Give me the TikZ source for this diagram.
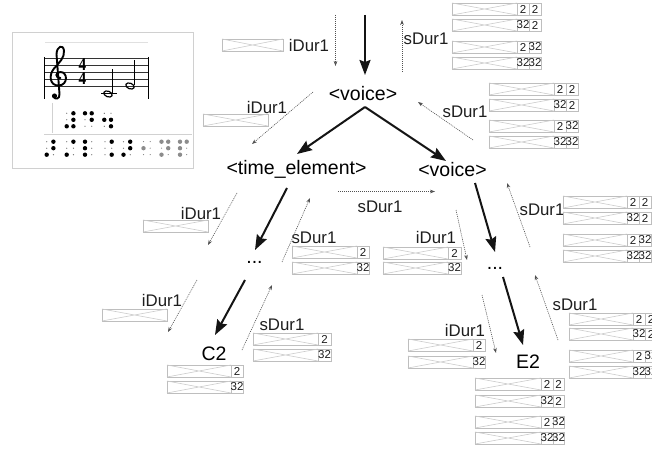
\documentclass[tikz,border=0pt]{standalone}
\usepackage{fontspec}
\setmainfont{Liberation Sans}
\newfontfamily\tsfont{Liberation Serif}
\usetikzlibrary{arrows.meta}
\definecolor{boxgray}{HTML}{BEBEBE}
\definecolor{crossgray}{HTML}{CCCCCC}
\definecolor{txtdark}{HTML}{1E1E1E}
\definecolor{dotgray}{HTML}{505050}
\definecolor{frame}{HTML}{D0D0D0}
\tikzset{
  boxln/.style={draw=boxgray,line width=0.8pt},
  crossln/.style={draw=crossgray,line width=0.6pt},
  celtxt/.style={inner sep=0pt,text=txtdark,font=\fontsize{11.5}{11.5}\selectfont},
  lbl/.style={inner sep=0pt,text=txtdark,font=\fontsize{16.8}{16.8}\selectfont},
  mainnode/.style={inner sep=0pt,anchor=base,text=black,font=\fontsize{19.5}{19.5}\selectfont},
  thick arrow/.style={draw=black!92,line width=2pt,-{Stealth[length=15pt,width=11pt,inset=2pt]}},
  thin arrow/.style={draw=dotgray,line width=0.6pt,dash pattern=on 1pt off 1pt,-{Stealth[length=5pt,width=3.6pt]}},
  bigdot/.style={fill=black},
  smalldot/.style={fill=black!55},
  graydot/.style={fill=black!45},
}
\newcommand\xb[4]{\draw[boxln] (#1,#2) rectangle (#3,#4);\draw[crossln] (#1,#2) -- (#3,#4) (#1,#4) -- (#3,#2);}
\newcommand\cel[5]{\draw[boxln] (#1,#2) rectangle (#3,#4);\node[celtxt] at ({(#1+#3)/2},{(#2+#4)/2}) {#5};}
\newcommand\trow[7]{\xb{#1}{#2}{#3}{#2+12}\cel{#3}{#2}{#4}{#2+12}{#6}\cel{#4}{#2}{#5}{#2+12}{#7}}
\newcommand\orow[5]{\xb{#1}{#2}{#3}{#2+12}\cel{#3}{#2}{#4}{#2+12}{#5}}
\newcommand\fourgroup[8]{%
  \trow{#1}{#5}{#2}{#3}{#4}{2}{2}
  \trow{#1}{#6}{#2}{#3}{#4}{32}{2}
  \trow{#1}{#7}{#2}{#3}{#4}{2}{32}
  \trow{#1}{#8}{#2}{#3}{#4}{32}{32}}
\newcommand\twogroup[5]{%
  \orow{#1}{#4}{#2}{#3}{2}
  \orow{#1}{#5}{#2}{#3}{32}}
% braille dot: x y filled(1)/empty(0)
\newcommand\bd[3]{\ifnum#3=1 \fill[bigdot] (#1,#2) circle (2.2);\else\fill[smalldot] (#1,#2) circle (0.65);\fi}
\newcommand\gd[3]{\ifnum#3=1 \fill[graydot] (#1,#2) circle (2.2);\else\fill[smalldot] (#1,#2) circle (0.55);\fi}
% braille cell: x, y top, six flags (r1l r1r r2l r2r r3l r3r)
\newcommand\bcell[8]{\bd{#1}{#2}{#3}\bd{#1+6.7}{#2}{#4}\bd{#1}{#2+6.5}{#5}\bd{#1+6.7}{#2+6.5}{#6}\bd{#1}{#2+13}{#7}\bd{#1+6.7}{#2+13}{#8}}
\newcommand\gcell[8]{\gd{#1}{#2}{#3}\gd{#1+6.7}{#2}{#4}\gd{#1}{#2+6.5}{#5}\gd{#1+6.7}{#2+6.5}{#6}\gd{#1}{#2+13}{#7}\gd{#1+6.7}{#2+13}{#8}}
\begin{document}
\begin{tikzpicture}[x=1pt,y=-1pt]
\useasboundingbox (0,0) rectangle (652,449);
\clip (0,0) rectangle (652,449);
\fill[white] (0,0) rectangle (652,449);

% ---------- music picture ----------
\draw[frame,line width=0.9pt] (12,32) rectangle (193,168);
\draw[black!12,line width=0.8pt] (45,42.5) -- (148,42.5);
\foreach \yy in {58,65,72,79,86} \draw[black!80,line width=0.7pt] (44,\yy) -- (149,\yy);
\draw[black,line width=1pt] (44.5,57) -- (44.5,99);
\draw[black,line width=1pt] (148.5,57) -- (148.5,99);
% treble clef
\draw[black,line width=1.9pt,line cap=round]
  (60.5,78) .. controls (55,78) and (55,72) .. (60.5,72)
  .. controls (68,72) and (68,85) .. (59,85.5)
  .. controls (49.5,86) and (48.5,75) .. (54,68.5)
  .. controls (58.5,63.5) and (65,57.5) .. (64,50.5)
  .. controls (63,44) and (57,46) .. (56.5,54)
  -- (59.5,94) .. controls (60,99) and (55,100) .. (54,97);
\fill[black] (54.5,96) circle (2.6);
% time signature
\node[inner sep=0pt,align=center,font=\tsfont\bfseries\fontsize{18}{13.5}\selectfont,xscale=0.85] (ts) at (82.5,71.5) {4\\4};
% notes
\draw[black,line width=0.8pt] (101,93) -- (117,93);
\draw[black,line width=1.2pt,rotate around={-22:(108,94)}] (108,94) ellipse (4.4 and 2.8);
\draw[black,line width=0.8pt] (112.2,93) -- (112.2,69);
\draw[black,line width=1.2pt,rotate around={-22:(130,86)}] (130,86) ellipse (4.4 and 2.8);
\draw[black,line width=0.8pt] (134.4,85) -- (134.4,60);
% braille
\draw[black!18,line width=0.9pt] (52.5,103) -- (52.5,133);
\draw[black!18,line width=0.9pt] (44,134.5) -- (192,134.5);
\bcell{66.7}{113.3}{0}{1}{0}{1}{1}{1}
\bcell{85}{113.3}{1}{1}{0}{1}{0}{0}
\bcell{104.3}{113.3}{0}{0}{1}{1}{0}{1}
\bcell{46.7}{141.7}{0}{1}{0}{1}{1}{0}
\bcell{66.7}{141.7}{0}{1}{0}{0}{1}{0}
\bcell{85}{141.7}{1}{0}{1}{0}{1}{0}
\bcell{105}{141.7}{0}{1}{0}{0}{0}{1}
\bcell{123.5}{141.7}{0}{1}{0}{1}{1}{0}
\gcell{143.5}{141.7}{0}{0}{1}{0}{0}{0}
\gcell{161.5}{141.7}{1}{1}{0}{1}{1}{0}
\gcell{180}{141.7}{1}{1}{1}{0}{1}{0}

% ---------- main nodes ----------
\node[mainnode] (voice1) at (363,101) {<voice>};
\node[mainnode] (timeel) at (296.5,174) {<time\_element>};
\node[mainnode] (voice2) at (452.5,176) {<voice>};
\node[mainnode] (dots1) at (254.5,263) {...};
\node[mainnode] (dots2) at (495,269) {...};
\node[mainnode] (c2) at (214,360) {C2};
\node[mainnode] (e2) at (528,368) {E2};

% ---------- labels ----------
\node[lbl] (l1) at (309,45) {iDur1};
\node[lbl] (l2) at (426,39) {sDur1};
\node[lbl] (l3) at (267,107.5) {iDur1};
\node[lbl] (l4) at (465,112) {sDur1};
\node[lbl] (l5) at (380,207) {sDur1};
\node[lbl] (l6) at (201,213) {iDur1};
\node[lbl] (l7) at (314,238) {sDur1};
\node[lbl] (l8) at (436,237) {iDur1};
\node[lbl] (l9) at (542,210) {sDur1};
\node[lbl] (l10) at (162,300) {iDur1};
\node[lbl] (l11) at (282,325) {sDur1};
\node[lbl] (l12) at (575,305) {sDur1};
\node[lbl] (l13) at (465,330) {iDur1};

% ---------- crossed boxes & tables ----------
\xb{222}{39}{283}{51}
\xb{203}{114}{268}{126}
\xb{143}{220}{208}{232}
\xb{102}{309}{167}{321}
\fourgroup{452}{517}{529}{541}{3}{19}{41}{57}
\fourgroup{489}{554}{566}{578}{83}{99}{120}{136}
\fourgroup{563}{627}{639}{651}{196}{212}{234}{250}
\fourgroup{569}{633}{645}{657}{313}{328}{350}{366}
\fourgroup{475}{541}{553}{564}{378}{395}{416}{432}
\twogroup{292}{357}{369}{246}{262}
\twogroup{383}{448}{461}{247}{262}
\twogroup{253}{318}{331}{333}{349}
\twogroup{167}{231}{243}{365}{381}
\twogroup{408}{473}{485}{339}{356}

% ---------- connector end points ----------
\coordinate (t0) at (365,15);   \coordinate (t1) at (365,75);
\coordinate (apex) at (365,107);
\coordinate (te) at (297,154);  \coordinate (ve) at (446,161);
\coordinate (ts) at (287,188);  \coordinate (d1e) at (255,250);
\coordinate (d1s) at (245,280); \coordinate (c2e) at (215,335);
\coordinate (vs) at (475,183);  \coordinate (d2e) at (495,252);
\coordinate (d2s) at (503,277); \coordinate (e2e) at (523,345);
% thick connectors
\draw[thick arrow] (t0) -- (t1);
\draw[thick arrow] (apex) -- (te);
\draw[thick arrow] (apex) -- (ve);
\draw[thick arrow] (ts) -- (d1e);
\draw[thick arrow] (d1s) -- (c2e);
\draw[thick arrow] (vs) -- (d2e);
\draw[thick arrow] (d2s) -- (e2e);

% dotted connectors
\coordinate (a1) at (335.5,15);  \coordinate (a2) at (335.5,66);
\coordinate (b1) at (402,72);  \coordinate (b2) at (402,20);
\coordinate (c1) at (313,92);  \coordinate (cc2) at (252,144);
\coordinate (dd1) at (473,140); \coordinate (dd2) at (418,102);
\coordinate (e1) at (338,191.5); \coordinate (ee2) at (435,191.5);
\coordinate (f1) at (237,193); \coordinate (f2) at (208,245);
\coordinate (g1) at (282,262); \coordinate (g2) at (310,198);
\coordinate (h1) at (456,210); \coordinate (h2) at (467,260);
\coordinate (i1) at (530,247); \coordinate (i2) at (507,183);
\coordinate (j1) at (197,280); \coordinate (j2) at (168,332);
\coordinate (k1) at (242,350); \coordinate (k2) at (272,285);
\coordinate (m1) at (482,295); \coordinate (m2) at (496,353);
\coordinate (n1) at (558,340); \coordinate (n2) at (535,275);
\draw[thin arrow] (a1) -- (a2);
\draw[thin arrow] (b1) -- (b2);
\draw[thin arrow] (c1) -- (cc2);
\draw[thin arrow] (dd1) -- (dd2);
\draw[thin arrow] (e1) -- (ee2);
\draw[thin arrow] (f1) -- (f2);
\draw[thin arrow] (g1) -- (g2);
\draw[thin arrow] (h1) -- (h2);
\draw[thin arrow] (i1) -- (i2);
\draw[thin arrow] (j1) -- (j2);
\draw[thin arrow] (k1) -- (k2);
\draw[thin arrow] (m1) -- (m2);
\draw[thin arrow] (n1) -- (n2);
\end{tikzpicture}
\end{document}
